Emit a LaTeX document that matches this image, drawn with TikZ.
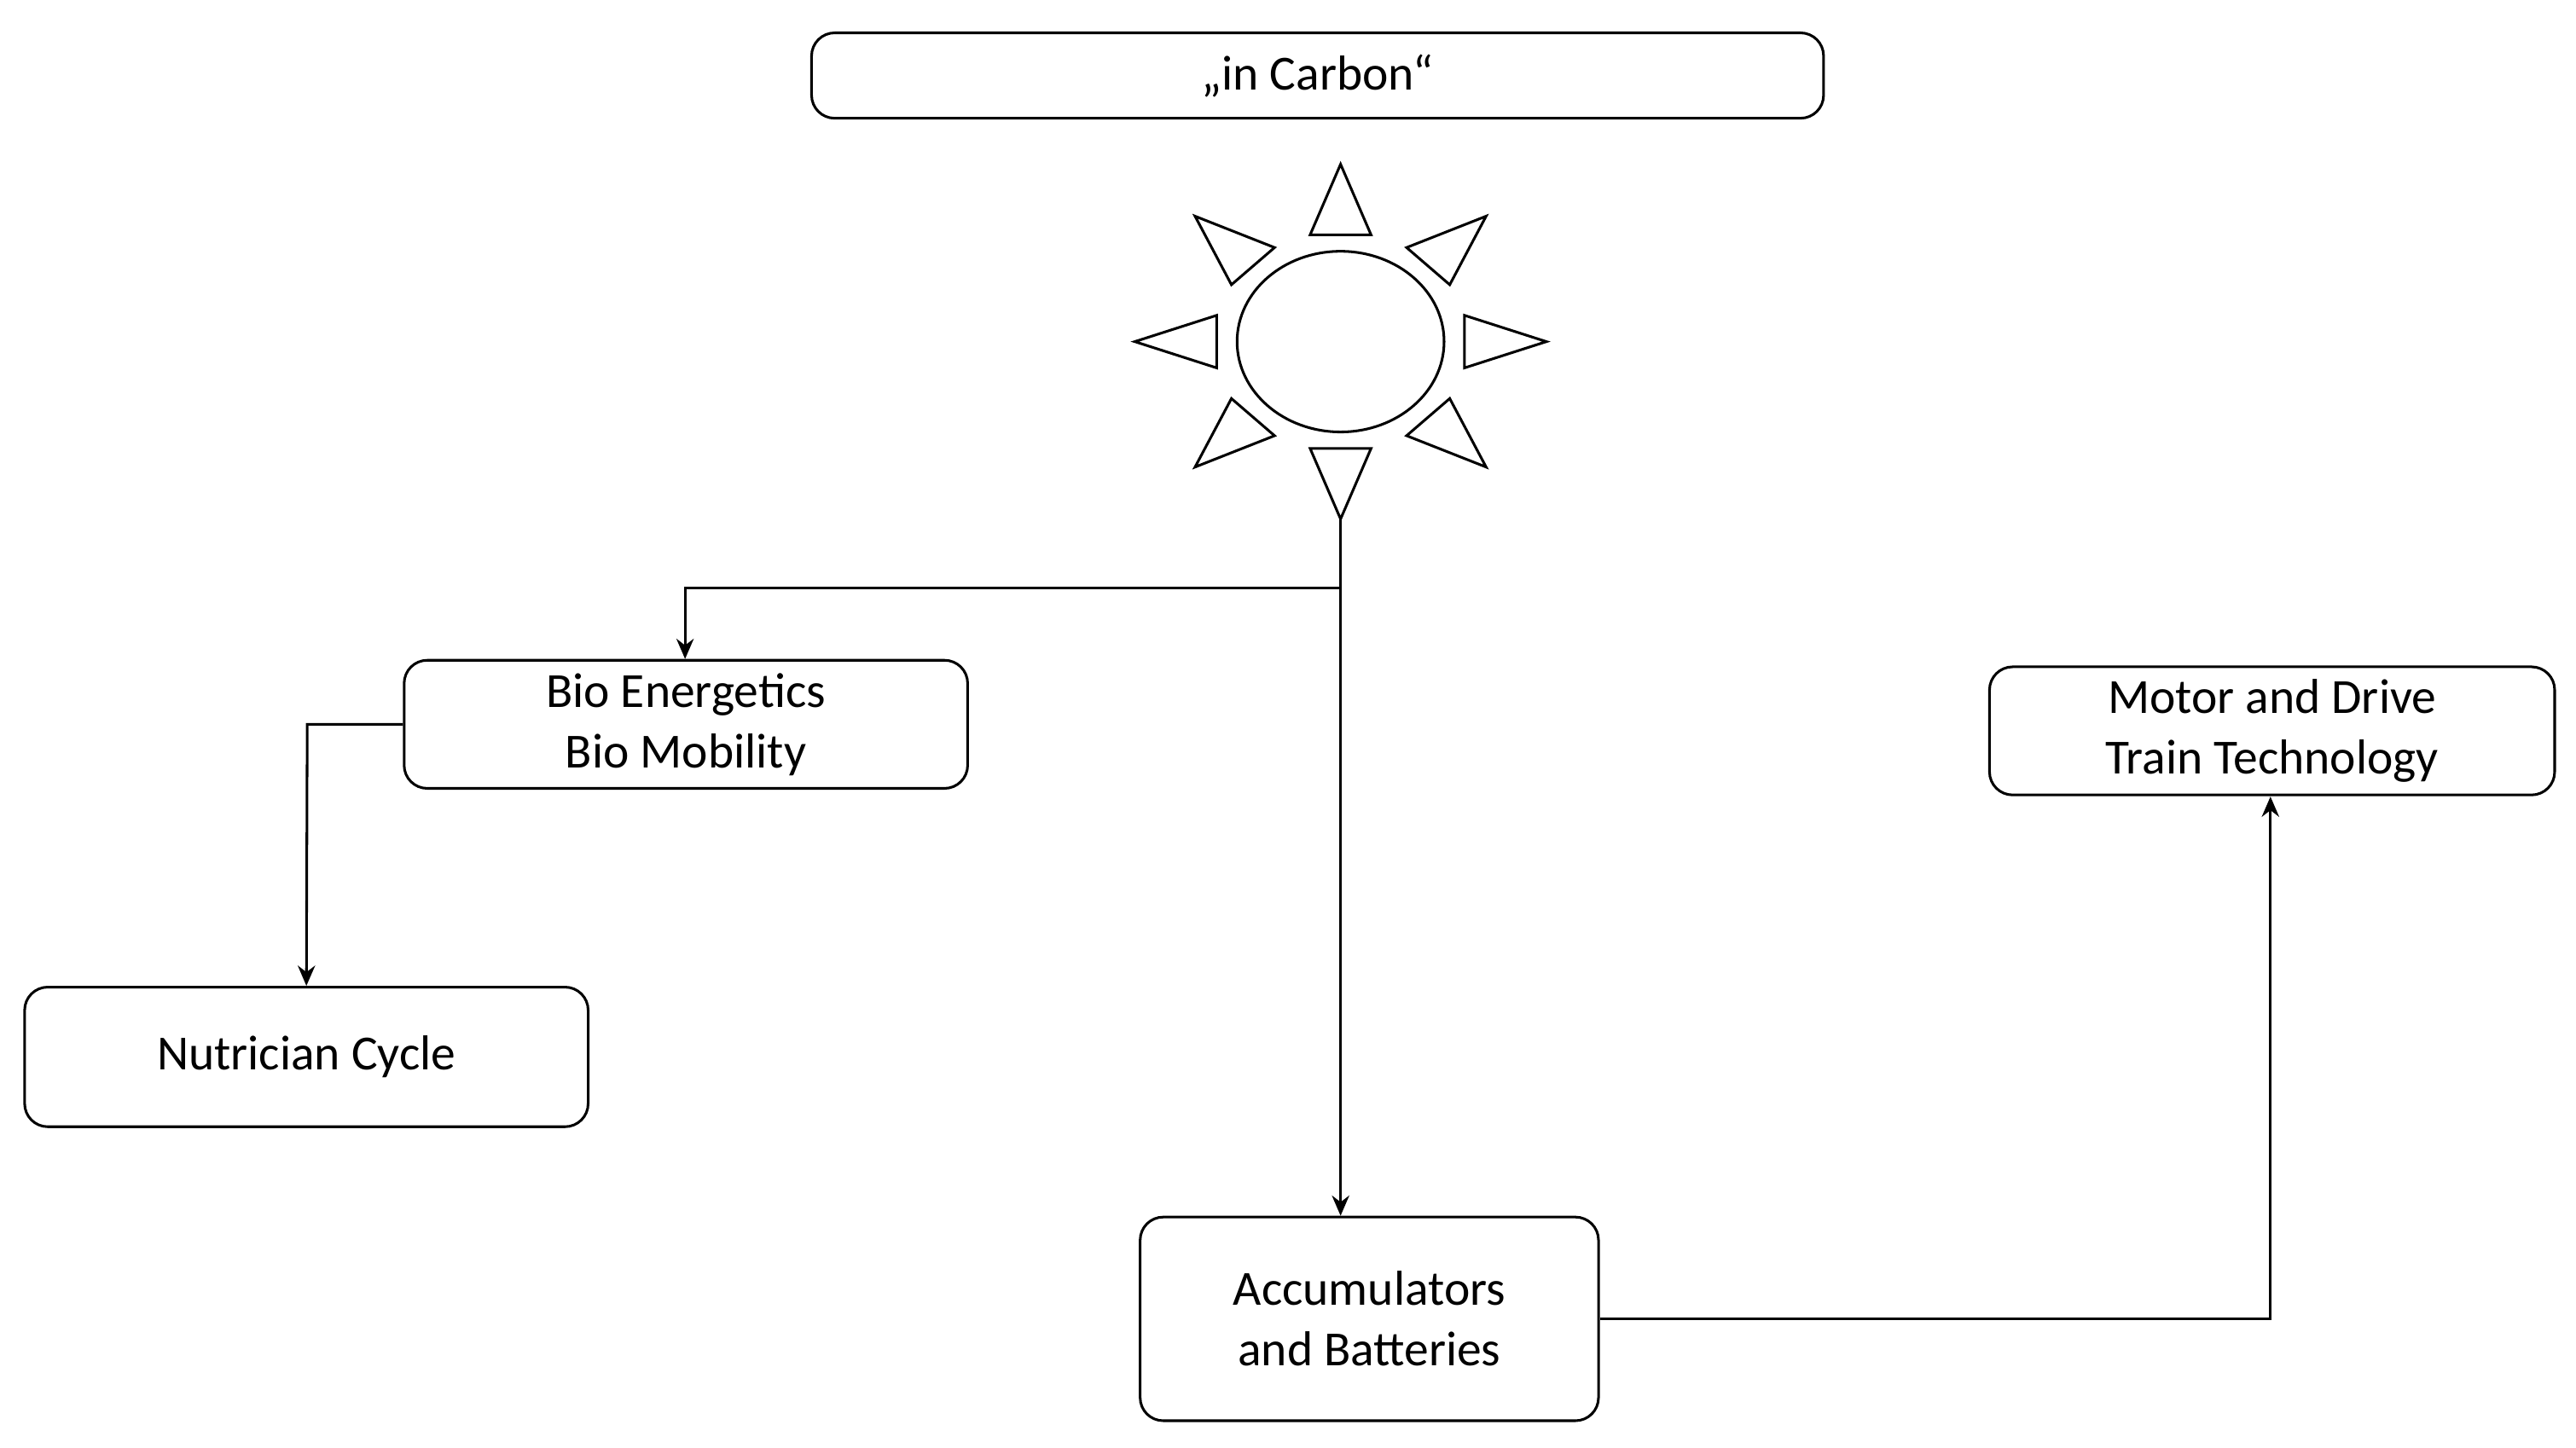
\documentclass[tikz,border=0pt]{standalone}
\usepackage{fontspec}
\setmainfont{Carlito}
\usetikzlibrary{arrows.meta,shapes.geometric}
\begin{document}
\begin{tikzpicture}[x=0.02cm,y=-0.02cm,
 box/.style={draw,line width=0.9pt,rounded corners=8pt,align=center,font=\fontsize{17}{21}\selectfont,inner sep=0pt},
 con/.style={line width=0.9pt,-{Stealth[length=7pt,width=6pt]}},
 tri/.style={draw,line width=0.9pt}]
\useasboundingbox (0,0) rectangle (1568,881.6);
\node[box,minimum width=616*0.02cm,minimum height=52*0.02cm] (carbon) at (802,46) {„in Carbon“};
\node[draw,ellipse,line width=0.9pt,minimum width=126*0.02cm,minimum height=110*0.02cm,inner sep=0pt] (sun) at (816,208) {};
\begin{scope}[shift={(816,208)},xscale=1.16]
\foreach \a in {0,45,...,315}{
  \draw[tri,rotate=\a] (65,-16) -- (108,0) -- (65,16) -- cycle;
}
\end{scope}
\coordinate (sunb) at (816,316);
\coordinate (br) at (816,358);
\coordinate (bl) at (417,358);
\node[box,minimum width=343*0.02cm,minimum height=78*0.02cm] (bio) at (417.5,441) {Bio Energetics\\Bio Mobility};
\node[box,minimum width=343*0.02cm,minimum height=85*0.02cm] (nut) at (186.5,643.5) {Nutrician Cycle};
\node[box,minimum width=279*0.02cm,minimum height=124*0.02cm] (acc) at (833.5,803) {Accumulators\\and Batteries};
\node[box,minimum width=344*0.02cm,minimum height=78*0.02cm] (mot) at (1383,445) {Motor and Drive\\Train Technology};
\coordinate (mb) at (1382,485);
\draw[con] (sunb) -- (acc.north -| sunb);
\draw[con] (br) -- (bl) -- (bio.north -| bl);
\draw[con] (bio.west) -- (187,441) -- (nut.north);
\draw[con] (acc.east) -| (mb);
\end{tikzpicture}
\end{document}
